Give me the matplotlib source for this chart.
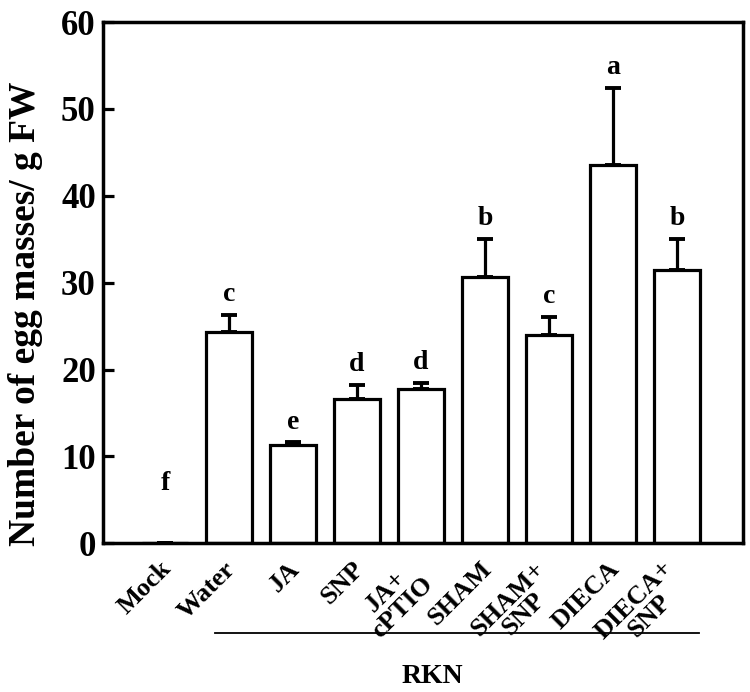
import matplotlib
matplotlib.use("Agg")
import matplotlib.pyplot as plt
from matplotlib.transforms import blended_transform_factory, ScaledTranslation

categories = ["Mock", "Water", "JA", "SNP", "JA+\ncPTIO", "SHAM", "SHAM+\nSNP", "DIECA", "DIECA+\nSNP"]
values = [0.0, 24.3, 11.3, 16.6, 17.8, 30.7, 24.0, 43.6, 31.5]
errors = [0.0, 2.0, 0.3, 1.6, 0.7, 4.3, 2.1, 8.8, 3.5]
letters = ["f", "c", "e", "d", "d", "b", "c", "a", "b"]
yticks = [0, 10, 20, 30, 40, 50, 60]
group_label = "RKN"

plt.rcParams['font.family'] = ['Liberation Serif', 'DejaVu Serif']
plt.rcParams['font.weight'] = 'bold'

fig = plt.figure(figsize=(7.5, 6.92), dpi=100)
ax = fig.add_axes([0.137, 0.215, 0.854, 0.753])

x = list(range(len(categories)))
ax.bar(x, values, width=0.72, color='white', edgecolor='black', linewidth=2.3, zorder=2)
ax.errorbar(x, values, yerr=[[0]*len(errors), errors], fmt='none', ecolor='black',
            elinewidth=2.3, capsize=6, capthick=2.8, zorder=1)

for xi, v, e, l in zip(x, values, errors, letters):
    top = v + e
    ypos = top + 0.9 if v > 0 else 5.4
    ax.text(xi, ypos, l, ha='center', va='bottom', fontsize=20, fontweight='bold')

ax.set_xlim(-0.97, 9.03)
ax.set_ylim(0, 60)
ax.set_yticks(yticks)
ax.set_yticklabels([str(t) for t in yticks], fontsize=25, fontweight='bold')
ax.tick_params(axis='y', direction='in', length=8, width=2.3, pad=5)
ax.set_xticks(x)
ax.set_xticklabels(categories, rotation=45, ha='right', va='top', rotation_mode='anchor',
                   fontsize=19, fontweight='bold', multialignment='center', linespacing=0.95)
ax.tick_params(axis='x', length=0, pad=10)
for lab in ax.get_xticklabels():
    dx = -16 if '\n' in lab.get_text() else -5
    lab.set_transform(lab.get_transform() + ScaledTranslation(dx / 100, 0, fig.dpi_scale_trans))
for s in ax.spines.values():
    s.set_linewidth(2.5)

ax.set_ylabel("Number of egg masses/ g FW", fontsize=27, fontweight='bold')
ax.yaxis.set_label_coords(-0.093, 0.44)

trans = blended_transform_factory(ax.transData, ax.transAxes)
ax.plot([0.78, 8.34], [-0.172, -0.172], transform=trans, color='black', lw=1.3, clip_on=False)
ax.text(4.17, -0.255, group_label, transform=trans, ha='center', va='center',
        fontsize=20, fontweight='bold')

fig.savefig("out.png", dpi=100)
